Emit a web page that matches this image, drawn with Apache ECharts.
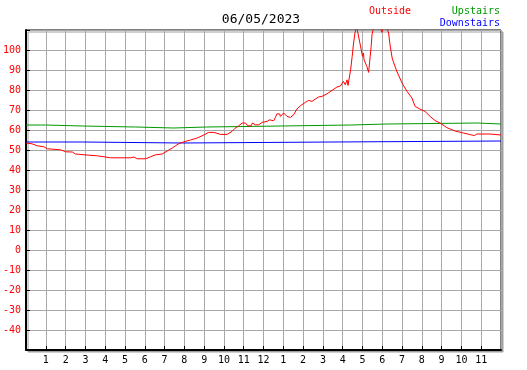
<!DOCTYPE html>
<html>
<head>
<meta charset="utf-8">
<script src="https://cdn.jsdelivr.net/npm/echarts@6/dist/echarts.min.js"></script>
<style>
  html, body { margin: 0; padding: 0; background: #ffffff; }
  #chart { width: 527px; height: 370px; }
</style>
</head>
<body>
<div id="chart"></div>
<script>
// 图表数据（小时 0-24）
const chartDate = '06/05/2023';
const hourLabels = ['1', '2', '3', '4', '5', '6', '7', '8', '9', '10', '11', '12',
  '1', '2', '3', '4', '5', '6', '7', '8', '9', '10', '11'];

const outsideHours = [0, 0.3, 0.57, 0.9, 1.08, 1.75, 2.0, 2.34, 2.5, 2.93, 3.6, 3.94, 4.27, 5.28, 5.45, 5.62,
  6.04, 6.29, 6.54, 6.88, 7.13, 7.39, 7.55, 7.72, 7.97, 8.31, 8.65, 8.98, 9.23, 9.49, 9.82, 10.16,
  10.41, 10.55, 10.75, 10.92, 11.09, 11.2, 11.37, 11.44, 11.59, 11.76, 11.93, 12.18, 12.31, 12.51,
  12.6, 12.68, 12.82, 12.85, 13.02, 13.19, 13.36, 13.52, 13.69, 13.86, 13.94, 14.11, 14.28, 14.45,
  14.62, 14.78, 14.95, 15.21, 15.46, 15.71, 15.88, 16.04, 16.13, 16.22, 16.27, 16.36, 16.4, 16.48,
  16.55, 16.62, 16.7, 16.8, 16.9, 17.0, 17.05, 17.08, 17.22, 17.31, 17.39, 17.44, 17.48, 17.56,
  17.9, 17.98, 18.06, 18.23, 18.32, 18.4, 18.5, 18.6, 18.75, 19.0, 19.25, 19.5, 19.66, 19.9,
  20.16, 20.42, 20.67, 20.92, 21.26, 21.68, 22.1, 22.44, 22.66, 22.78, 23.45, 23.55, 24];
const outsideTemps = [53.5, 53.1, 52.1, 51.6, 50.6, 50.1, 49.1, 49.0, 48.0, 47.6, 47.1, 46.6, 46.1, 46.1, 46.5, 45.6,
  45.6, 46.6, 47.6, 48.0, 49.5, 51.0, 52.1, 53.2, 54.1, 55.0, 56.0, 57.5, 58.8, 58.8, 57.8, 57.8,
  59.3, 60.8, 62.1, 63.5, 63.5, 62.1, 62.1, 63.5, 62.6, 62.6, 63.8, 64.3, 65.1, 64.6,
  66.3, 68.1, 68.0, 66.8, 68.5, 66.8, 66.3, 67.6, 70.5, 72.1, 73.1, 73.8, 74.8, 74.3,
  75.5, 76.5, 76.8, 78.1, 79.8, 81.5, 82.0, 84.3, 82.6, 85.1, 82.3, 82.6, 90.1, 96.8,
  103.5, 108.5, 112, 111, 102, 96.8, 98.5, 95.1, 91.8, 88.8, 96.8, 101.8, 107.6, 111,
  111, 108.8, 111, 111, 108.5, 102, 96, 93, 89, 83.5, 79.3, 76, 71.8, 70.5,
  69.3, 66.8, 64.7, 63.5, 61.2, 59.5, 58.5, 57.7, 57.2, 58.0, 58.0, 57.5, 57.5];

const upstairsHours = [0, 0.72, 0.78, 0.98, 2.85, 5.53, 5.58, 7.47, 9.12, 12.88, 16.43, 18.23, 22.8, 24];
const upstairsTemps = [62.5, 62.0, 62.5, 62.0, 61.5, 62.0, 61.0, 61.5, 62.0, 62.5, 63.0, 63.5, 63.0, 63.0];

const downstairsHours = [0, 2.85, 7.89, 15.46, 24];
const downstairsTemps = [54.0, 53.5, 54.0, 54.5, 54.5];

const zip = (xs, ys) => xs.map((x, i) => [x, ys[i]]);

const chart = echarts.init(document.getElementById('chart'));
const mono = 'DejaVu Sans Mono';

const option = {
  animation: false,
  backgroundColor: '#ffffff',
  graphic: [
    { type: 'text', x: 261, y: 20, style: { text: chartDate, font: '13px "' + mono + '"', fill: '#000', align: 'center', verticalAlign: 'middle' } },
    { type: 'text', x: 369, y: 11, style: { text: 'Outside', font: '10px "' + mono + '"', fill: '#ff0000', align: 'left', verticalAlign: 'middle' } },
    { type: 'text', x: 500, y: 11, style: { text: 'Upstairs', font: '10px "' + mono + '"', fill: '#009900', align: 'right', verticalAlign: 'middle' } },
    { type: 'text', x: 500, y: 23, style: { text: 'Downstairs', font: '10px "' + mono + '"', fill: '#0000ff', align: 'right', verticalAlign: 'middle' } }
  ],
  grid: {
    left: 25,
    top: 30,
    width: 476,
    height: 320,
    show: true,
    backgroundColor: '#ffffff',
    borderColor: '#000000',
    borderWidth: 1,
    shadowColor: '#a0a0a0',
    shadowBlur: 0,
    shadowOffsetX: 2,
    shadowOffsetY: 2
  },
  xAxis: {
    type: 'value',
    min: 0,
    max: 24,
    interval: 1,
    axisLine: { show: true, onZero: false, lineStyle: { color: '#000', width: 2 } },
    axisTick: { show: true, inside: true, length: 4, lineStyle: { color: '#000' } },
    axisLabel: {
      color: '#000',
      fontFamily: mono,
      fontSize: 10,
      margin: 5,
      showMinLabel: false,
      showMaxLabel: false,
      formatter: v => (v >= 1 && v <= 23 ? hourLabels[v - 1] : '')
    },
    splitLine: { show: true, lineStyle: { color: '#a8a8a8', width: 1 } }
  },
  yAxis: {
    type: 'value',
    min: -50,
    max: 110,
    interval: 10,
    axisLine: { show: true, onZero: false, lineStyle: { color: '#000', width: 2 } },
    axisTick: { show: true, inside: true, length: 4, lineStyle: { color: '#000' } },
    axisLabel: {
      color: '#ff0000',
      fontFamily: mono,
      fontSize: 10,
      margin: 5,
      formatter: v => (v === -50 || v === 110 ? '' : String(v))
    },
    splitLine: { show: true, lineStyle: { color: '#a8a8a8', width: 1 } }
  },
  series: [
    {
      name: 'Upstairs',
      type: 'line',
      step: 'end',
      data: zip(upstairsHours, upstairsTemps),
      symbol: 'none',
      lineStyle: { color: '#009900', width: 1 }
    },
    {
      name: 'Downstairs',
      type: 'line',
      step: 'end',
      data: zip(downstairsHours, downstairsTemps),
      symbol: 'none',
      lineStyle: { color: '#0000ff', width: 1 }
    },
    {
      name: 'Outside',
      type: 'line',
      data: zip(outsideHours, outsideTemps),
      symbol: 'none',
      clip: true,
      lineStyle: { color: '#ff0000', width: 1 }
    }
  ]
};
chart.setOption(option);
</script>
</body>
</html>
